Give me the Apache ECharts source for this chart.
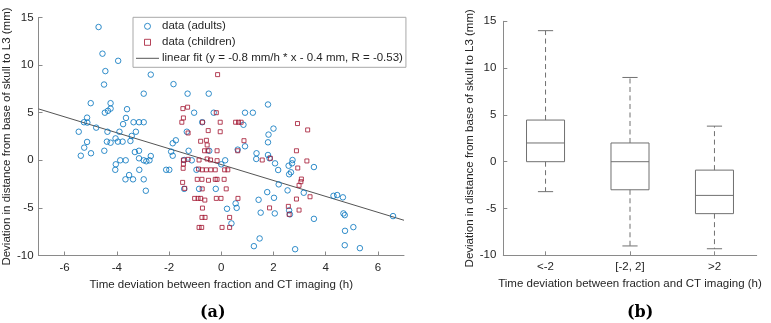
<!DOCTYPE html>
<html><head><meta charset="utf-8">
<script src="https://cdn.jsdelivr.net/npm/echarts@6/dist/echarts.min.js"></script>
<style>html,body{margin:0;padding:0;background:#fff}#c{width:771px;height:323px}</style>
</head><body><div id="c"></div>
<script>
// ---- data ----
const adults = [
 [-4.70,14.0],[-4.55,11.2],[-3.95,10.45],[-4.44,9.37],[-2.70,9.0],[-4.49,7.96],[-2.97,7.0],[-5.0,6.0],
 [-4.24,6.0],[-4.24,5.43],[-4.34,5.2],[-4.46,5.0],[-3.61,5.37],[-3.65,4.45],[-5.14,4.48],[-5.26,4.0],
 [-5.13,3.96],[-3.76,3.8],[-3.36,4.0],[-3.15,4.0],[-2.97,4.0],[-4.79,3.43],[-5.46,3.0],[-4.36,3.0],
 [-3.90,3.0],[-3.27,3.0],[-3.43,2.56],[-4.05,2.3],
 [-5.14,1.93],[-5.25,1.33],[-5.38,0.48],[-4.99,0.74],[-4.48,1.0],[-4.38,1.96],[-4.24,1.85],
 [-3.96,1.96],[-3.78,1.96],[-3.48,2.03],[-3.31,0.87],[-3.15,1.0],[-3.15,0.21],[-2.97,0.0],[-2.87,-0.1],
 [-2.75,0.0],[-2.70,0.45],[-3.87,0.0],[-3.66,0.0],[-4.04,-0.42],[-4.06,-1.0],[-3.14,-1.0],[-3.53,-1.55],
 [-3.67,-2.0],[-3.38,-2.0],[-2.97,-2.0],[-2.89,-3.2],
 [-1.83,8.0],[-1.29,7.0],[-0.48,7.0],[1.79,5.86],[-1.04,5.0],[-0.29,5.0],[0.91,5.0],[1.21,5.0],
 [-0.73,4.0],[0.85,3.73],[2.0,3.33],[1.81,2.7],[-1.32,3.0],[-1.74,2.1],
 [-1.86,1.79],[-1.92,0.91],[-1.86,0.48],[-1.25,1.0],[-2.11,-1.0],[-1.99,-1.0],[-1.42,0.03],[-1.13,0.0],
 [-0.46,1.0],[0.0,-0.42],[0.15,0.0],[-0.95,-1.0],[-1.42,-3.0],[-0.85,-3.0],[-0.21,-3.0],[0.63,1.12],
 [0.91,1.47],[1.35,0.74],[1.34,0.14],[1.79,1.89],[1.79,0.56],[1.85,0.21],[2.06,-0.32],[2.18,-1.02],
 [2.20,-2.53],[1.76,-3.34],[2.02,-3.94],[1.43,-4.15],[0.55,-4.53],[0.59,-5.0],[0.22,-5.09],[2.05,-5.58],
 [1.51,-5.5],[0.39,-6.63],[1.47,-8.21],[1.25,-9.02],
 [2.73,0.03],[2.71,-0.32],[2.58,-0.57],[3.55,-0.71],[2.67,-1.26],[2.60,-1.47],[2.54,-3.16],[3.16,-3.41],
 [4.30,-3.73],[4.44,-3.65],[4.66,-3.89],[2.60,-5.26],[2.63,-5.68],[4.68,-5.58],[4.73,-5.76],[3.55,-6.15],
 [6.58,-5.86],[5.06,-7.02],[4.74,-7.41],[4.73,-8.92],[5.31,-9.23],[2.83,-9.34]
];
const children = [
 [-0.14,9.0],[-1.47,5.43],[-1.29,5.58],[-1.45,4.45],[-1.51,4.0],[-0.19,5.0],[-0.04,4.0],[0.55,4.0],
 [0.66,4.0],[0.76,4.0],[2.92,3.86],[3.31,3.19],[-0.50,3.12],[-0.04,3.0],[-1.27,2.87],[-0.57,2.1],
 [0.87,2.06],[-0.72,4.0],[-0.79,2.0],[-0.54,1.61],[-0.64,1.0],[-0.51,1.0],[-0.16,1.0],[0.63,1.0],
 [-1.45,0.03],[-1.27,0.1],[-1.45,-0.39],[-1.46,-0.84],[-0.85,0.03],[-0.54,0.14],[-0.41,0.03],[-0.16,-0.04],
 [-0.87,-0.92],[-0.73,-1.0],[-0.57,-1.0],[-0.40,-1.0],[-0.23,-1.0],[0.13,-1.0],[0.25,-1.0],
 [-0.92,-2.0],[-0.74,-2.0],[-0.49,-2.1],[-0.23,-2.0],[-0.16,-2.0],[0.11,-2.0],[-1.48,-2.32],[-1.40,-2.95],
 [-0.73,-3.0],[0.19,-3.0],[-1.02,-4.0],[-0.89,-4.0],[-0.79,-4.0],[-0.63,-4.18],[-0.19,-4.0],[-0.01,-4.0],
 [0.64,-4.0],[-0.72,-5.02],[-0.74,-6.0],[-0.62,-6.0],[0.32,-6.0],[-0.85,-7.05],[-0.75,-7.05],[0.03,-7.05],
 [0.32,-7.05],[1.57,0.03],[1.88,0.21],[1.85,-5.0],
 [2.88,1.0],[3.28,-0.07],[2.93,-0.81],[3.07,-1.97],[3.05,-2.25],[2.98,-2.63],[3.40,-3.83],[2.88,-4.07],
 [2.57,-4.84],[2.98,-5.23],[2.60,-5.68]
];
const fitLine = [[-7, 5.4], [7, -6.3]];
const scatterXTicks = [-6, -4, -2, 0, 2, 4, 6];
const boxCategories = ['<-2', '[-2, 2]', '>2'];
const boxMin = [-3.2, -9.0, -9.3];
const boxQ1 = [0.0, -3.0, -5.55];
const boxMedian = [2.0, 0.0, -3.6];
const boxQ3 = [4.45, 2.0, -0.9];
const boxMax = [14.0, 9.0, 3.8];
const legendNames = ['data (adults)', 'data (children)', 'linear fit (y = -0.8 mm/h * x - 0.4 mm, R = -0.53)'];
const xTitle = 'Time deviation between fraction and CT imaging (h)';
const yTitle = 'Deviation in distance from base of skull to L3 (mm)';

// ---- chart ----
const FONT = '"Liberation Sans", Arial, sans-serif';
const FS = 11.5;
const TXT = '#262626';
const AX = '#8a8a8a';
const BOXC = '#707070';
const BLUE = '#0072BD';
const RED = '#A2142F';
const FITC = '#555555';
const boxData = boxCategories.map((c, i) => [i, boxMin[i], boxQ1[i], boxMedian[i], boxQ3[i], boxMax[i]]);

const chart = echarts.init(document.getElementById('c'), null, {renderer: 'canvas'});
const axisCommon = {
  axisLine: {show: true, onZero: false, lineStyle: {color: AX, width: 1}},
  axisTick: {show: true, inside: true, length: 4, lineStyle: {color: AX}},
  axisLabel: {color: TXT, fontSize: FS, fontFamily: FONT},
  splitLine: {show: false},
  nameTextStyle: {color: TXT, fontSize: FS, fontFamily: FONT}
};
chart.setOption({
  animation: false,
  backgroundColor: '#fff',
  textStyle: {fontFamily: FONT},
  grid: [
    {left: 34, top: 17.5, width: 370, height: 238},
    {left: 503.3, top: 21.3, width: 253.4, height: 234}
  ],
  xAxis: [
    Object.assign({}, axisCommon, {
      gridIndex: 0, type: 'value', min: -7, max: 7,
      axisTick: Object.assign({}, axisCommon.axisTick, {customValues: scatterXTicks}),
      axisLabel: Object.assign({}, axisCommon.axisLabel, {customValues: scatterXTicks, margin: 6}),
      name: xTitle, nameLocation: 'middle', nameGap: 21
    }),
    Object.assign({}, axisCommon, {
      gridIndex: 1, type: 'category', data: boxCategories, boundaryGap: true,
      axisTick: Object.assign({}, axisCommon.axisTick, {alignWithLabel: true}),
      axisLabel: Object.assign({}, axisCommon.axisLabel, {margin: 6}),
      name: xTitle, nameLocation: 'middle', nameGap: 21
    })
  ],
  yAxis: [
    Object.assign({}, axisCommon, {
      gridIndex: 0, type: 'value', min: -10, max: 15, interval: 5,
      axisLabel: Object.assign({}, axisCommon.axisLabel, {margin: 5}),
      name: yTitle, nameLocation: 'middle', nameGap: 18
    }),
    Object.assign({}, axisCommon, {
      gridIndex: 1, type: 'value', min: -10, max: 15, interval: 5,
      axisLabel: Object.assign({}, axisCommon.axisLabel, {margin: 7}),
      name: yTitle, nameLocation: 'middle', nameGap: 25
    })
  ],
  legend: {
    orient: 'vertical', left: 133, top: 17.3,
    padding: [3, 3, 3, 3], itemGap: 4, itemWidth: 23, itemHeight: 6,
    backgroundColor: '#fff', borderColor: '#a8a8a8', borderWidth: 1,
    textStyle: {color: TXT, fontSize: FS, fontFamily: FONT, padding: [0, 0, 0, -2]},
    data: [
      {name: legendNames[0], icon: 'path://M10,0A10,10,0,1,1,9.99,0Z',
        itemStyle: {color: 'rgba(0,0,0,0)', borderColor: BLUE, borderWidth: 1}},
      {name: legendNames[1], icon: 'path://M0,0L10,0L10,10L0,10Z',
        itemStyle: {color: 'rgba(0,0,0,0)', borderColor: RED, borderWidth: 1}},
      {name: legendNames[2], icon: 'path://M0,0L230,0L230,10L0,10Z',
        itemStyle: {color: FITC, borderWidth: 0}}
    ]
  },
  series: [
    {
      name: legendNames[0], type: 'scatter', xAxisIndex: 0, yAxisIndex: 0,
      symbol: 'circle', symbolSize: 5.5, data: adults,
      itemStyle: {color: 'rgba(0,0,0,0)', borderColor: BLUE, borderWidth: 1}
    },
    {
      name: legendNames[1], type: 'scatter', xAxisIndex: 0, yAxisIndex: 0,
      symbol: 'rect', symbolSize: 4, data: children,
      itemStyle: {color: 'rgba(0,0,0,0)', borderColor: RED, borderWidth: 1}
    },
    {
      name: legendNames[2], type: 'line', xAxisIndex: 0, yAxisIndex: 0,
      data: fitLine, symbol: 'none', lineStyle: {color: FITC, width: 1}, z: 1
    },
    {
      type: 'custom', xAxisIndex: 1, yAxisIndex: 1, data: boxData,
      encode: {x: 0, y: [1, 2, 3, 4, 5]},
      renderItem: function (params, api) {
        const c = api.value(0);
        const pMin = api.coord([c, api.value(1)]);
        const pQ1 = api.coord([c, api.value(2)]);
        const pMed = api.coord([c, api.value(3)]);
        const pQ3 = api.coord([c, api.value(4)]);
        const pMax = api.coord([c, api.value(5)]);
        const band = api.size([1, 0])[0];
        const bw = band * 0.45, cw = band * 0.18;
        const x = pMed[0];
        const solid = {stroke: BOXC, lineWidth: 1, fill: null};
        const dashed = {stroke: BOXC, lineWidth: 1, lineDash: [5, 3.5]};
        return {
          type: 'group',
          children: [
            {type: 'line', shape: {x1: x, y1: pQ3[1], x2: x, y2: pMax[1]}, style: dashed},
            {type: 'line', shape: {x1: x, y1: pQ1[1], x2: x, y2: pMin[1]}, style: dashed},
            {type: 'line', shape: {x1: x - cw / 2, y1: pMax[1], x2: x + cw / 2, y2: pMax[1]}, style: solid},
            {type: 'line', shape: {x1: x - cw / 2, y1: pMin[1], x2: x + cw / 2, y2: pMin[1]}, style: solid},
            {type: 'rect', shape: {x: x - bw / 2, y: pQ3[1], width: bw, height: pQ1[1] - pQ3[1]}, style: solid},
            {type: 'line', shape: {x1: x - bw / 2, y1: pMed[1], x2: x + bw / 2, y2: pMed[1]}, style: solid}
          ]
        };
      }
    }
  ],
  graphic: [
    {type: 'text', left: 200, top: 305, style: {text: '(a)', font: 'bold 16px "DejaVu Serif", serif', fill: '#000'}},
    {type: 'text', left: 627, top: 305, style: {text: '(b)', font: 'bold 16px "DejaVu Serif", serif', fill: '#000'}}
  ]
});
</script>
</body></html>
